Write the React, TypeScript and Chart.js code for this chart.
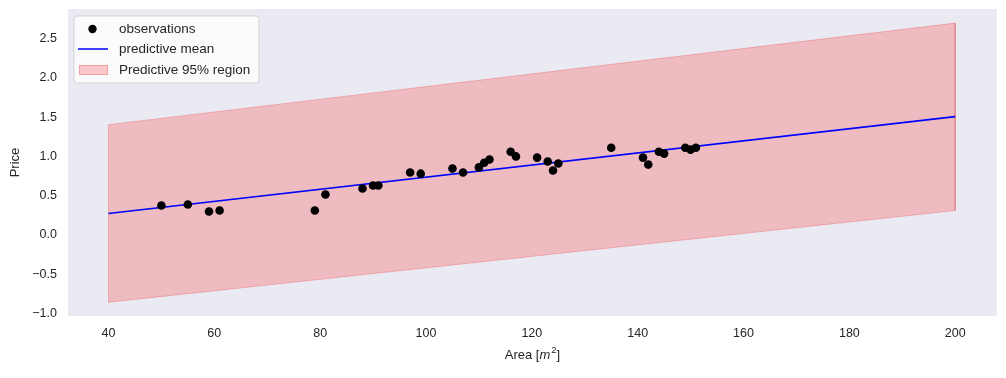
import React, { useEffect, useRef } from "react";
import { Chart, registerables } from "chart.js";

Chart.register(...registerables);

// ---- data ----
const obsArea = [50, 55, 59, 61, 79, 81, 88, 90, 91, 97, 99, 105, 107, 110, 111, 112, 116, 117, 121, 123, 124, 125, 135, 141, 142, 144, 145, 149, 150, 151];
const obsPrice = [0.375, 0.387, 0.298, 0.31, 0.31, 0.515, 0.59, 0.63, 0.63, 0.795, 0.78, 0.845, 0.795, 0.86, 0.92, 0.96, 1.06, 1.0, 0.985, 0.935, 0.82, 0.91, 1.11, 0.985, 0.896, 1.06, 1.036, 1.11, 1.087, 1.11];
const predArea = [40, 200];
const predMean = [0.273, 1.507];
const predUpper = [1.405, 2.70];
const predLower = [-0.86, 0.31];
const xTicks = [40, 60, 80, 100, 120, 140, 160, 180, 200];
const yTicks = [-1.0, -0.5, 0.0, 0.5, 1.0, 1.5, 2.0, 2.5];
const legendLabels = ["observations", "predictive mean", "Predictive 95% region"];
const xTitleParts = ["Area [", "m", "2", "]"];
const yTitle = "Price";

const FONT = "'Liberation Sans', Arial, sans-serif";
const TEXT = "#262626";
const BAND_FILL = "rgba(255,0,0,0.2)";
const BAND_EDGE = "rgba(240,60,70,0.3)";

const bgPlugin = {
  id: "bgPlugin",
  beforeDraw(chart: any) {
    const { ctx, chartArea } = chart;
    ctx.save();
    ctx.fillStyle = "#EAEAF2";
    ctx.fillRect(chartArea.left, chartArea.top, chartArea.right - chartArea.left, chartArea.bottom - chartArea.top);
    ctx.restore();
  },
};

const xTitlePlugin = {
  id: "xTitle",
  afterDraw(chart: any) {
    const { ctx, chartArea } = chart;
    const cx = (chartArea.left + chartArea.right) / 2;
    const y = 355;
    ctx.save();
    ctx.fillStyle = TEXT;
    ctx.textBaseline = "middle";
    ctx.textAlign = "left";
    const fNorm = `13px ${FONT}`;
    const fIt = `italic 13px ${FONT}`;
    const fSup = `9.5px ${FONT}`;
    ctx.font = fNorm;
    const w0 = ctx.measureText(xTitleParts[0]).width;
    const w3 = ctx.measureText(xTitleParts[3]).width;
    ctx.font = fIt;
    const w1 = ctx.measureText(xTitleParts[1]).width;
    ctx.font = fSup;
    const w2 = ctx.measureText(xTitleParts[2]).width;
    const total = w0 + w1 + w2 + w3 + 1;
    let x = cx - total / 2;
    ctx.font = fNorm;
    ctx.fillText(xTitleParts[0], x, y);
    x += w0;
    ctx.font = fIt;
    ctx.fillText(xTitleParts[1], x, y);
    x += w1 + 1;
    ctx.font = fSup;
    ctx.fillText(xTitleParts[2], x, y - 5);
    x += w2;
    ctx.font = fNorm;
    ctx.fillText(xTitleParts[3], x, y);
    ctx.restore();
  },
};

const legendPlugin = {
  id: "customLegend",
  afterDraw(chart: any) {
    const ctx = chart.ctx;
    const x0 = 74, y0 = 16, w = 185, h = 67, r = 3;
    ctx.save();
    ctx.beginPath();
    ctx.moveTo(x0 + r, y0);
    ctx.arcTo(x0 + w, y0, x0 + w, y0 + h, r);
    ctx.arcTo(x0 + w, y0 + h, x0, y0 + h, r);
    ctx.arcTo(x0, y0 + h, x0, y0, r);
    ctx.arcTo(x0, y0, x0 + w, y0, r);
    ctx.closePath();
    ctx.fillStyle = "rgba(255,255,255,0.8)";
    ctx.fill();
    ctx.strokeStyle = "rgba(204,204,204,0.8)";
    ctx.lineWidth = 1;
    ctx.stroke();

    const rows = [29, 49, 70];
    ctx.beginPath();
    ctx.arc(92.5, rows[0], 4.2, 0, Math.PI * 2);
    ctx.fillStyle = "#000";
    ctx.fill();
    ctx.beginPath();
    ctx.moveTo(78, rows[1]);
    ctx.lineTo(108, rows[1]);
    ctx.strokeStyle = "#0000ff";
    ctx.lineWidth = 1.5;
    ctx.stroke();
    ctx.fillStyle = BAND_FILL;
    ctx.fillRect(79, rows[2] - 5, 29, 10);
    ctx.strokeStyle = BAND_EDGE;
    ctx.lineWidth = 1;
    ctx.strokeRect(79.5, rows[2] - 4.5, 28, 9);

    ctx.fillStyle = TEXT;
    ctx.font = `13.5px ${FONT}`;
    ctx.textBaseline = "middle";
    ctx.textAlign = "left";
    legendLabels.forEach((t, i) => ctx.fillText(t, 119, rows[i]));
    ctx.restore();
  },
};

const fmt = (v: number) => v.toFixed(1).replace("-", "\u2212");

export default function App() {
  const ref = useRef<HTMLCanvasElement>(null);
  useEffect(() => {
    const bandPoly = [
      { x: predArea[0], y: predUpper[0] },
      { x: predArea[1], y: predUpper[1] },
      { x: predArea[1], y: predLower[1] },
      { x: predArea[0], y: predLower[0] },
      { x: predArea[0], y: predUpper[0] },
    ];
    const chart = new Chart(ref.current as HTMLCanvasElement, {
      type: "scatter",
      data: {
        datasets: [
          {
            type: "line",
            label: legendLabels[2],
            data: bandPoly,
            fill: "shape",
            backgroundColor: BAND_FILL,
            borderColor: BAND_EDGE,
            borderWidth: 1,
            pointRadius: 0,
            tension: 0,
            order: 3,
          } as any,
          {
            type: "line",
            label: legendLabels[1],
            data: predArea.map((x, i) => ({ x, y: predMean[i] })),
            borderColor: "#0000ff",
            borderWidth: 1.6,
            pointRadius: 0,
            fill: false,
            order: 2,
          },
          {
            type: "scatter",
            label: legendLabels[0],
            data: obsArea.map((x, i) => ({ x, y: obsPrice[i] })),
            backgroundColor: "#000",
            borderColor: "#000",
            borderWidth: 0,
            pointRadius: 4.3,
            order: 1,
          },
        ],
      },
      options: {
        animation: false,
        responsive: false,
        maintainAspectRatio: false,
        layout: { padding: { top: 9, right: 9, left: 0, bottom: 0 } },
        plugins: { legend: { display: false }, tooltip: { enabled: false } },
        scales: {
          x: {
            type: "linear",
            min: 32.35,
            max: 207.9,
            grid: { display: false, drawTicks: false },
            border: { display: false },
            afterBuildTicks: (s: any) => { s.ticks = xTicks.map((v) => ({ value: v })); },
            afterFit: (s: any) => { s.height = 62; s.paddingLeft = 0; s.paddingRight = 0; },
            ticks: {
              padding: 10,
              color: TEXT,
              font: { family: FONT, size: 12.5 },
              callback: (v: any) => String(v),
              maxRotation: 0,
            },
            title: { display: false },
          },
          y: {
            type: "linear",
            min: -1.035,
            max: 2.88,
            grid: { display: false, drawTicks: false },
            border: { display: false },
            afterBuildTicks: (s: any) => { s.ticks = yTicks.map((v) => ({ value: v })); },
            afterFit: (s: any) => { s.width = 68; s.paddingTop = 0; s.paddingBottom = 0; },
            ticks: {
              padding: 11,
              color: TEXT,
              font: { family: FONT, size: 12.5 },
              callback: (v: any) => fmt(Number(v)),
            },
            title: {
              display: true,
              text: yTitle,
              color: TEXT,
              font: { family: FONT, size: 13 },
              padding: { top: 8, bottom: 0 },
            },
          },
        },
      },
      plugins: [bgPlugin, legendPlugin, xTitlePlugin],
    });
    return () => chart.destroy();
  }, []);
  return (
    <div style={{ position: "fixed", left: 0, top: 0, width: 1006, height: 378, background: "#fff" }}>
      <canvas ref={ref} width={1006} height={378} style={{ display: "block", width: 1006, height: 378 }} />
    </div>
  );
}
